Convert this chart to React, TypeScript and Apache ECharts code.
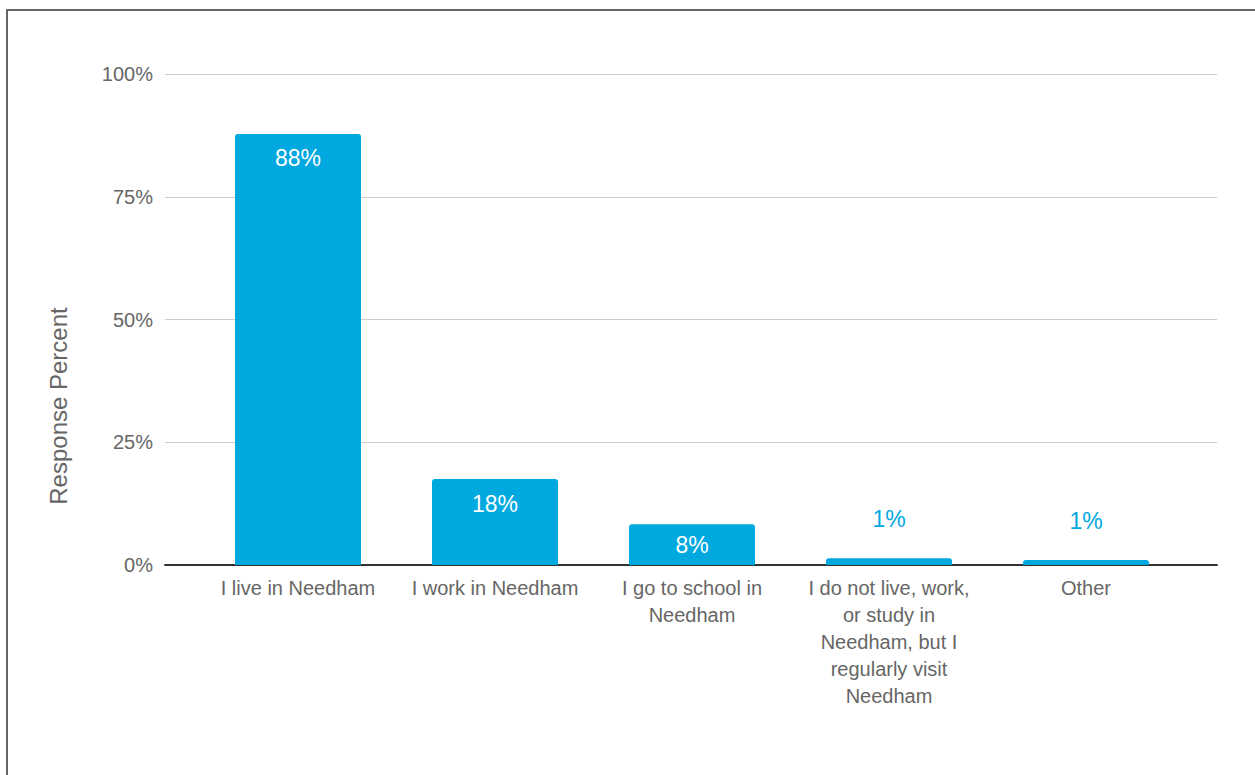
import React, { useEffect, useRef } from "react";
import * as echarts from "echarts";

const categories = [
  "I live in Needham",
  "I work in Needham",
  "I go to school in\nNeedham",
  "I do not live, work,\nor study in\nNeedham, but I\nregularly visit\nNeedham",
  "Other",
];
const responsePercent = [87.8, 17.5, 8.3, 1.4, 1.0];
const yTicks = [0, 25, 50, 75, 100];

const FONT = "'Liberation Sans', Arial, sans-serif";
const BLUE = "#00a8e0";
const GREY = "#666666";

export default function App() {
  const ref = useRef<HTMLDivElement>(null);
  useEffect(() => {
    if (!ref.current) return;
    const chart = echarts.init(ref.current, undefined, { renderer: "svg" });
    const data = responsePercent.map((v) => {
      let label: any;
      if (v >= 15) {
        label = { position: "insideTop", distance: 13, color: "#ffffff" };
      } else if (v >= 5) {
        label = { position: "inside", color: "#ffffff" };
      } else {
        label = { position: "top", distance: 28, color: BLUE };
      }
      return { value: v, label };
    });
    chart.setOption({
      animation: false,
      textStyle: { fontFamily: FONT },
      grid: [
        { left: 165, right: 38, top: 74, bottom: 210 },
        { left: 199.5, right: 70.5, top: 74, bottom: 210 },
      ],
      xAxis: [
        {
          type: "category",
          gridIndex: 0,
          data: [""],
          axisLine: { show: true, lineStyle: { color: "#333333", width: 2 } },
          axisTick: { show: false },
          axisLabel: { show: false },
          splitLine: { show: false },
        },
        {
          type: "category",
          gridIndex: 1,
          data: categories,
          axisLine: { show: false },
          axisTick: { show: false },
          axisLabel: {
            interval: 0,
            color: GREY,
            fontSize: 20,
            lineHeight: 27,
            margin: 9,
            fontFamily: FONT,
            align: "center",
          },
        },
      ],
      yAxis: [
        {
          type: "value",
          gridIndex: 0,
          min: yTicks[0],
          max: yTicks[yTicks.length - 1],
          interval: 25,
          axisLine: { show: false },
          axisTick: { show: false },
          axisLabel: {
            formatter: "{value}%",
            color: GREY,
            fontSize: 20,
            margin: 12,
            fontFamily: FONT,
          },
          splitLine: { show: true, lineStyle: { color: "#cccccc", width: 1 } },
        },
        {
          type: "value",
          gridIndex: 1,
          min: yTicks[0],
          max: yTicks[yTicks.length - 1],
          interval: 25,
          show: false,
          splitLine: { show: false },
        },
      ],
      graphic: [
        {
          type: "text",
          x: 58,
          y: 406,
          rotation: Math.PI / 2,
          style: {
            text: "Response Percent",
            fill: GREY,
            fontSize: 24,
            fontFamily: FONT,
            textAlign: "center",
            textVerticalAlign: "middle",
          },
        },
      ],
      series: [
        {
          type: "bar",
          xAxisIndex: 1,
          yAxisIndex: 1,
          barWidth: 126,
          data,
          itemStyle: { color: BLUE, borderRadius: [3, 3, 0, 0] },
          label: {
            show: true,
            fontSize: 23,
            fontFamily: FONT,
            formatter: (p: any) => Math.round(p.value) + "%",
          },
          z: 3,
        },
      ],
    });
    return () => chart.dispose();
  }, []);

  return (
    <div
      style={{
        position: "fixed",
        left: 0,
        top: 0,
        width: 1255,
        height: 775,
        overflow: "hidden",
        background: "#ffffff",
      }}
    >
      <div
        style={{
          position: "absolute",
          left: 6,
          top: 9,
          width: 1300,
          height: 820,
          border: "2px solid #666666",
          boxSizing: "border-box",
        }}
      />
      <div
        ref={ref}
        style={{ position: "absolute", left: 0, top: 0, width: 1255, height: 775 }}
      />
    </div>
  );
}
